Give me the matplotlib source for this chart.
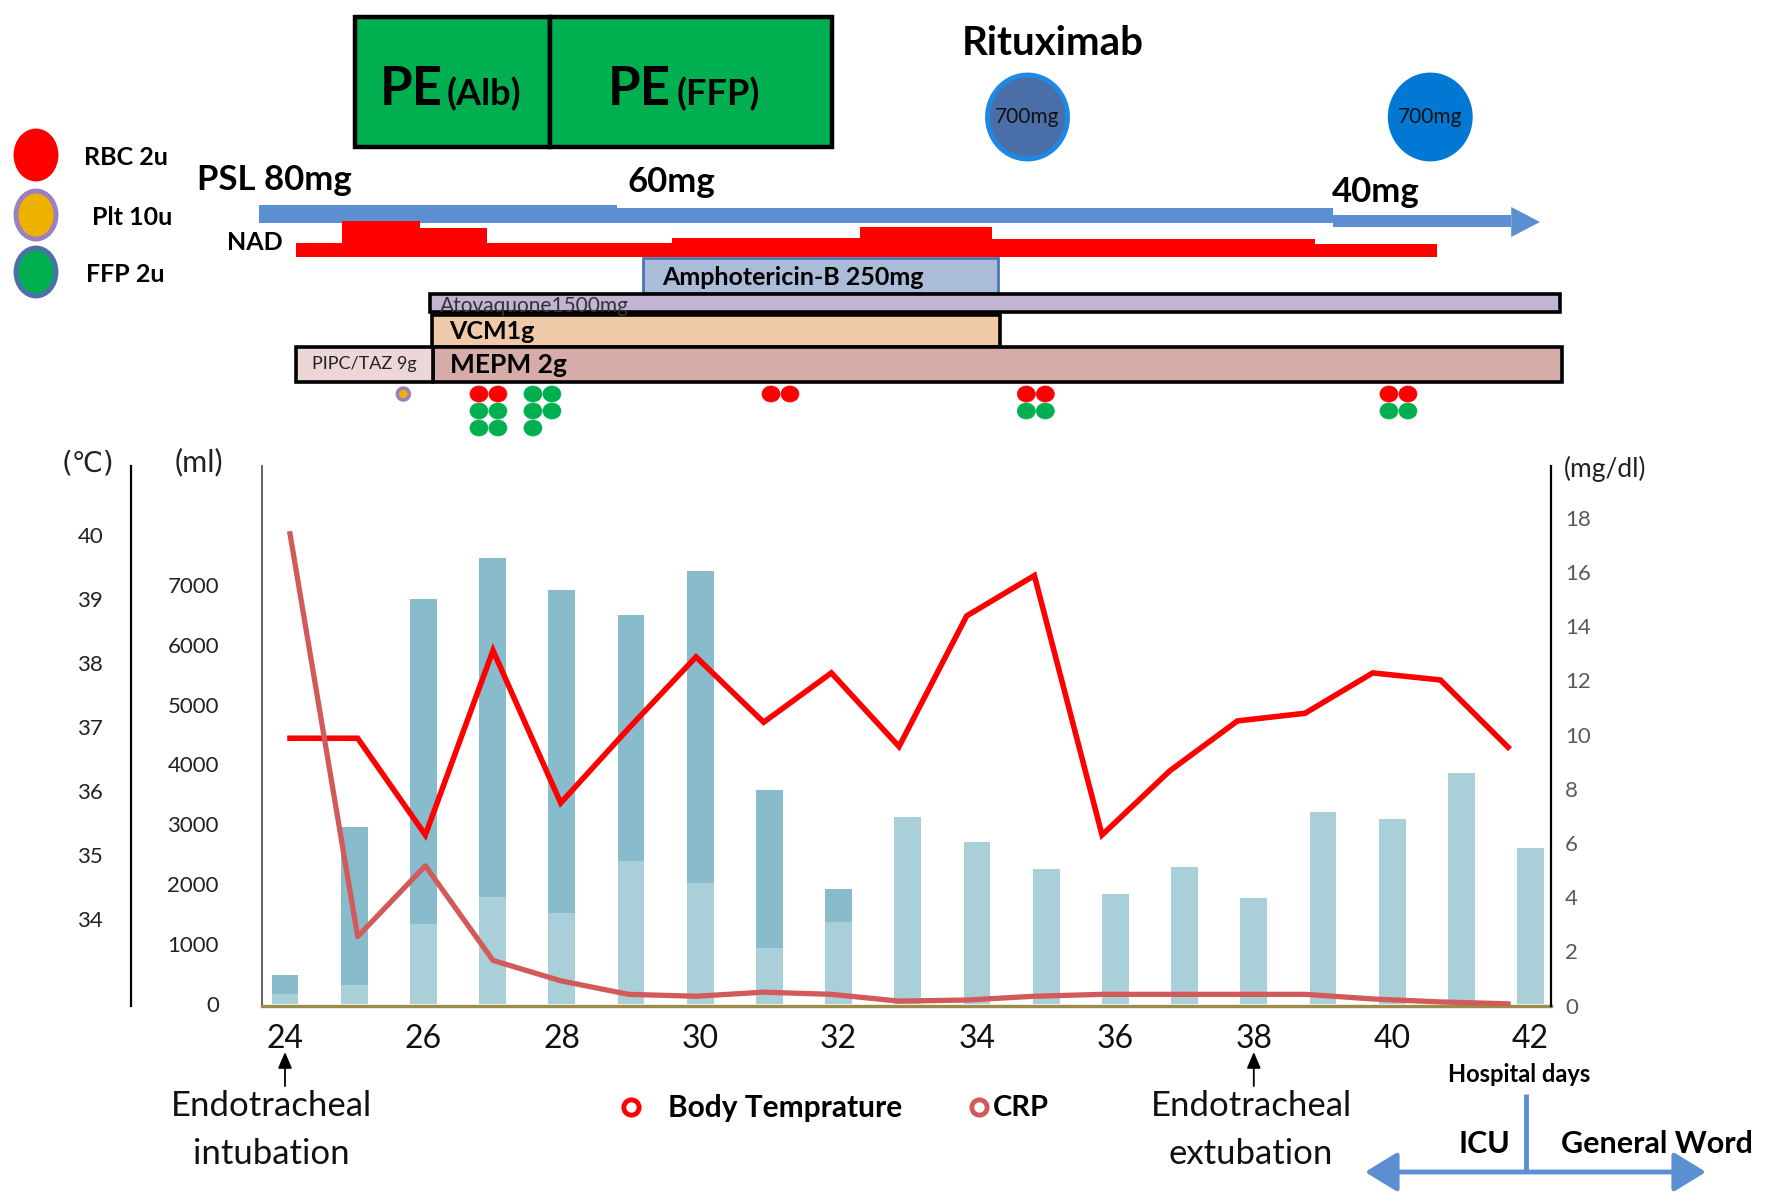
import matplotlib
matplotlib.use("Agg")
import matplotlib.pyplot as plt
from matplotlib.patches import Rectangle, Ellipse, Polygon

plt.rcParams['font.family'] = ['Lato', 'DejaVu Sans']

# ---------------- data ----------------
days = list(range(24, 43))
day_ticks = list(range(24, 43, 2))
fluid_light = [166, 320, 1330, 1790, 1520, 2390, 2020, 940, 1370, 3120, 2700,
               2260, 1830, 2290, 1770, 3210, 3090, 3860, 2600]
fluid_dark = [324, 2630, 5430, 5650, 5400, 4110, 5215, 2640, 550, 0, 0,
              0, 0, 0, 0, 0, 0, 0, 0]
temperature = [36.82, 36.82, 35.31, 38.19, 35.81, 36.97, 38.09, 37.07, 37.84, 36.69,
               38.73, 39.36, 35.31, 36.31, 37.09, 37.21, 37.84, 37.73, 36.68]
crp = [17.4, 2.55, 5.16, 1.67, 0.92, 0.42, 0.35, 0.5, 0.42, 0.17,
       0.21, 0.35, 0.42, 0.42, 0.42, 0.42, 0.25, 0.14, 0.07]
ml_ticks = list(range(0, 8000, 1000))
temp_ticks = list(range(34, 41))
crp_ticks = list(range(0, 19, 2))

# treatment timeline (hospital days)
pe_labels = ['(Alb)', '(FFP)']
pe_start = [25.01, 27.83]
pe_end = [27.83, 31.90]
rituximab_days = [34.73, 40.55]
rituximab_dose = ['700mg', '700mg']
psl_labels = ['PSL 80mg', '60mg', '40mg']
psl_start = [23.62, 28.80, 39.14]
psl_end = [28.80, 39.14, 41.72]
nad_start = [24.16, 24.82, 25.95, 26.92, 29.59, 32.31, 34.22, 38.88]
nad_end = [24.82, 25.95, 26.92, 29.59, 32.31, 34.22, 38.88, 40.65]
nad_level = [14, 36, 29, 14, 19, 30, 18, 13]
drug_names = ['Amphotericin-B 250mg', 'Atovaquone1500mg', 'VCM1g', 'MEPM 2g', 'PIPC/TAZ 9g']
drug_start = [29.17, 26.10, 26.13, 26.14, 24.16]
drug_end = [34.30, 42.42, 34.33, 42.46, 26.14]
rbc_days = [26.94, 31.16, 34.85, 40.09]
rbc_count = [2, 2, 2, 2]
ffp_days = [26.94, 27.72, 34.85, 40.09]
ffp_count = [4, 5, 2, 2]
plt_days = [25.71]
plt_count = [1]
events = ['Endotracheal\nintubation', 'Endotracheal\nextubation']
event_days = [24, 38]

# ---------------- layout helpers ----------------
W, H = 1772, 1195
PXD = 69.2          # pixels per hospital day (bars / timeline)
def d(px):
    return 24 + (px - 285) / PXD

LPXD = 67.67        # pixels per hospital day for the line overlay
def dl(px):
    return 24 + (px - 290) / LPXD

fig = plt.figure(figsize=(W / 100, H / 100), dpi=100, facecolor='white')
ov = fig.add_axes([0, 0, 1, 1])
ov.set_xlim(d(0), d(W))
ov.set_ylim(H, 0)
ov.axis('off')

rect = [262 / W, 1 - 1006 / H, (1551 - 262) / W, (1006 - 466) / H]

# ---------------- main chart ----------------
ax = fig.add_axes(rect)
ax.set_xlim(d(262), d(1551))
ax.set_ylim(-33, 8982)
ax.bar(days, fluid_light, width=0.39, color='#a9cfd8', zorder=2)
ax.bar(days, fluid_dark, bottom=fluid_light, width=0.39, color='#88bbcc', zorder=2)
for s in ['top', 'right']:
    ax.spines[s].set_visible(False)
ax.spines['left'].set_color('#444444')
ax.spines['left'].set_linewidth(1.2)
ax.spines['bottom'].set_color('#9c8c4c')
ax.spines['bottom'].set_linewidth(2.4)
ax.set_yticks(ml_ticks)
ax.set_xticks(day_ticks)
ax.tick_params(axis='y', length=0, pad=31, labelsize=16, labelcolor='#222222')
ax.tick_params(axis='x', length=0, pad=13, labelsize=23, labelcolor='#111111')

# temperature overlay (own x mapping, as in the original overlay chart)
ax_t = fig.add_axes(rect)
ax_t.patch.set_visible(False)
ax_t.set_xlim(dl(262), dl(1551))
ax_t.set_ylim(32.64, 41.07)
ax_t.plot(days, temperature, color='#ff0000', lw=4, solid_joinstyle='miter')
ax_t.xaxis.set_visible(False)
for s in ['top', 'right', 'bottom']:
    ax_t.spines[s].set_visible(False)
ax_t.spines['left'].set_position(('outward', 94.3))
ax_t.spines['left'].set_color('black')
ax_t.spines['left'].set_linewidth(1.6)
ax_t.set_yticks(temp_ticks)
ax_t.tick_params(axis='y', length=0, pad=20, labelsize=16, labelcolor='#222222')

ax_c = ax_t.twinx()
ax_c.set_ylim(-0.01, 19.9)
ax_c.plot(days, crp, color='#d25a5a', lw=3.8)
for s in ['top', 'left', 'bottom']:
    ax_c.spines[s].set_visible(False)
ax_c.spines['right'].set_color('black')
ax_c.spines['right'].set_linewidth(1.6)
ax_c.set_yticks(crp_ticks)
ax_c.tick_params(axis='y', length=0, pad=10, labelsize=16, labelcolor='#595959')

# axis unit labels
ov.text(d(88), 463, '(℃)', fontsize=20, ha='center', va='center',
        family=['DejaVu Sans'], color='#222222')
ov.text(d(199), 462, '(ml)', fontsize=22, ha='center', va='center', color='#222222')
ov.text(d(1605), 469, '(mg/dl)', fontsize=19, ha='center', va='center', color='#222222')

# ---------------- top timeline ----------------
for lab, s, e in zip(pe_labels, pe_start, pe_end):
    ov.add_patch(Rectangle((s, 17), e - s, 130, facecolor='#00b050',
                           edgecolor='black', lw=3.2, zorder=3))
ov.text(d(380), 89, 'PE', fontsize=38, fontweight='bold', ha='left', va='center', zorder=4)
ov.text(d(447), 94, pe_labels[0], fontsize=26, fontweight='bold', ha='left', va='center', zorder=4)
ov.text(d(608), 89, 'PE', fontsize=38, fontweight='bold', ha='left', va='center', zorder=4)
ov.text(d(677), 94, pe_labels[1], fontsize=26, fontweight='bold', ha='left', va='center', zorder=4)

# Rituximab
ov.text(d(1053), 43, 'Rituximab', fontsize=29, fontweight='bold', ha='center', va='center')
rit_fc = ['#4a6ea8', '#0078d4']
rit_ec = ['#1e88e5', '#0078d4']
for x, lab, fc, ec in zip(rituximab_days, rituximab_dose, rit_fc, rit_ec):
    ov.add_patch(Ellipse((x, 117), 80 / PXD, 84, facecolor=fc, edgecolor=ec, lw=3.5))
    ov.text(x, 117, lab, fontsize=15, ha='center', va='center', color='#111111')

# transfusion legend
leg_y = [155, 215, 272]
leg_fc = ['#ff0000', '#eeb100', '#00b050']
leg_ec = ['#ff0000', '#9a80c0', '#4f6fa8']
leg_txt = ['RBC 2u', 'Plt 10u', 'FFP 2u']
leg_tx = [84, 92, 86]
for y, fc, ec, t, tx in zip(leg_y, leg_fc, leg_ec, leg_txt, leg_tx):
    ov.add_patch(Ellipse((d(36), y), 40 / PXD, 48, facecolor=fc, edgecolor=ec, lw=3.5))
    ov.text(d(tx), y + 2, t, fontsize=18, fontweight='bold', ha='left', va='center')

# PSL arrow
psl_top = [205, 208, 215]
psl_bot = [223, 223, 227]
psl_col = '#5b8fd2'
for s, e, t, b in zip(psl_start, psl_end, psl_top, psl_bot):
    ov.add_patch(Rectangle((s, t), e - s, b - t, facecolor=psl_col, edgecolor='none'))
ov.add_patch(Polygon([(psl_end[-1], 207), (d(1540), 222), (psl_end[-1], 237)],
                     closed=True, facecolor=psl_col, edgecolor='none'))
ov.text(d(197), 180, psl_labels[0], fontsize=25, fontweight='bold', ha='left', va='center')
ov.text(d(671), 182, psl_labels[1], fontsize=25, fontweight='bold', ha='center', va='center')
ov.text(d(1376), 192, psl_labels[2], fontsize=25, fontweight='bold', ha='center', va='center')

# NAD
ov.text(d(255), 242, 'NAD', fontsize=18, fontweight='bold', ha='center', va='center')
for s, e, lv in zip(nad_start, nad_end, nad_level):
    ov.add_patch(Rectangle((s, 257 - lv), e - s, lv, facecolor='#ff0000', edgecolor='none'))

# antimicrobials
rows_top = [258, 294, 315, 347, 347]
rows_h = [35, 18, 32, 35, 35]
fcs = ['#aabcd8', '#c2b4d2', '#f0caa8', '#d6aca8', '#ecd6d6']
ecs = ['#4a76b8', 'black', 'black', 'black', 'black']
lws = [2.0, 2.6, 2.6, 2.6, 2.6]
rects = []
for name, s, e, t, h, fc, ec, lw in zip(drug_names, drug_start, drug_end, rows_top,
                                        rows_h, fcs, ecs, lws):
    r = Rectangle((s, t), e - s, h, facecolor=fc, edgecolor=ec, lw=lw, zorder=2)
    ov.add_patch(r)
    rects.append(r)
ov.text(drug_start[0] + 19 / PXD, 277, drug_names[0], fontsize=18, fontweight='bold',
        ha='left', va='center', zorder=3)
ta = ov.text(drug_start[1] + 10 / PXD, 312, drug_names[1], fontsize=15, ha='left',
             va='baseline', color='#333333', zorder=3)
ta.set_clip_path(rects[1])
ov.text(drug_start[2] + 17 / PXD, 331, drug_names[2], fontsize=18, fontweight='bold',
        ha='left', va='center', zorder=3)
ov.text(drug_start[3] + 17 / PXD, 365, drug_names[3], fontsize=19, fontweight='bold',
        ha='left', va='center', zorder=3)
ov.text((drug_start[4] + drug_end[4]) / 2, 364, drug_names[4], fontsize=13,
        ha='center', va='center', color='#222222', zorder=3)

# transfusion dots
DX = 9.5 / PXD
def dots(day, n, row0, color):
    for k in range(n):
        col = k % 2
        row = row0 + k // 2
        ov.add_patch(Ellipse((day + (col - 0.5) * 2 * DX, 394 + 17 * row), 18 / PXD, 16,
                             facecolor=color, edgecolor=color, lw=0.5))
for x, n in zip(rbc_days, rbc_count):
    dots(x, n, 0, '#ff0000')
for x, n in zip(ffp_days, ffp_count):
    row0 = 1 if x in rbc_days else 0
    dots(x, n, row0, '#00b050')
for x, n in zip(plt_days, plt_count):
    ov.add_patch(Ellipse((x, 394), 12 / PXD, 12, facecolor='#eeb100',
                         edgecolor='#9a80c0', lw=2.5))

# ---------------- bottom annotations ----------------
for day, txt, dx in zip(event_days, events, [-0.2, -0.04]):
    ov.annotate('', xy=(day, 1052), xytext=(day, 1086),
                arrowprops=dict(arrowstyle='-|>,head_length=0.7,head_width=0.3',
                                color='black', lw=1.3, mutation_scale=14,
                                shrinkA=0, shrinkB=0))
    ov.text(day + dx, 1130, txt, fontsize=25, ha='center', va='center',
            linespacing=1.62, color='#111111')

ov.plot([d(631)], [1107], 'o', ms=11, mfc='white', mec='#ff0000', mew=3.5)
ov.text(d(668), 1108, 'Body Temprature', fontsize=21.5, fontweight='bold', ha='left', va='center')
ov.plot([d(979)], [1107], 'o', ms=11, mfc='white', mec='#d25a5a', mew=3.5)
ov.text(d(993), 1108, 'CRP', fontsize=21, fontweight='bold', ha='left', va='center')

ov.text(d(1519), 1074, 'Hospital days', fontsize=17, fontweight='bold', ha='center', va='center')
ov.plot([d(1526), d(1526)], [1094, 1172], color='#5b8fd2', lw=3.5, solid_capstyle='butt')
ov.annotate('', xy=(d(1365), 1172), xytext=(d(1706), 1172),
            arrowprops=dict(arrowstyle='<|-|>,head_length=0.9,head_width=0.55',
                            color='#5b8fd2', lw=3.5, mutation_scale=22,
                            shrinkA=0, shrinkB=0))
ov.text(d(1484), 1144, 'ICU', fontsize=22, fontweight='bold', ha='center', va='center')
ov.text(d(1657), 1144, 'General Word', fontsize=22, fontweight='bold', ha='center', va='center')

fig.savefig('out.png', dpi=100, facecolor='white')
